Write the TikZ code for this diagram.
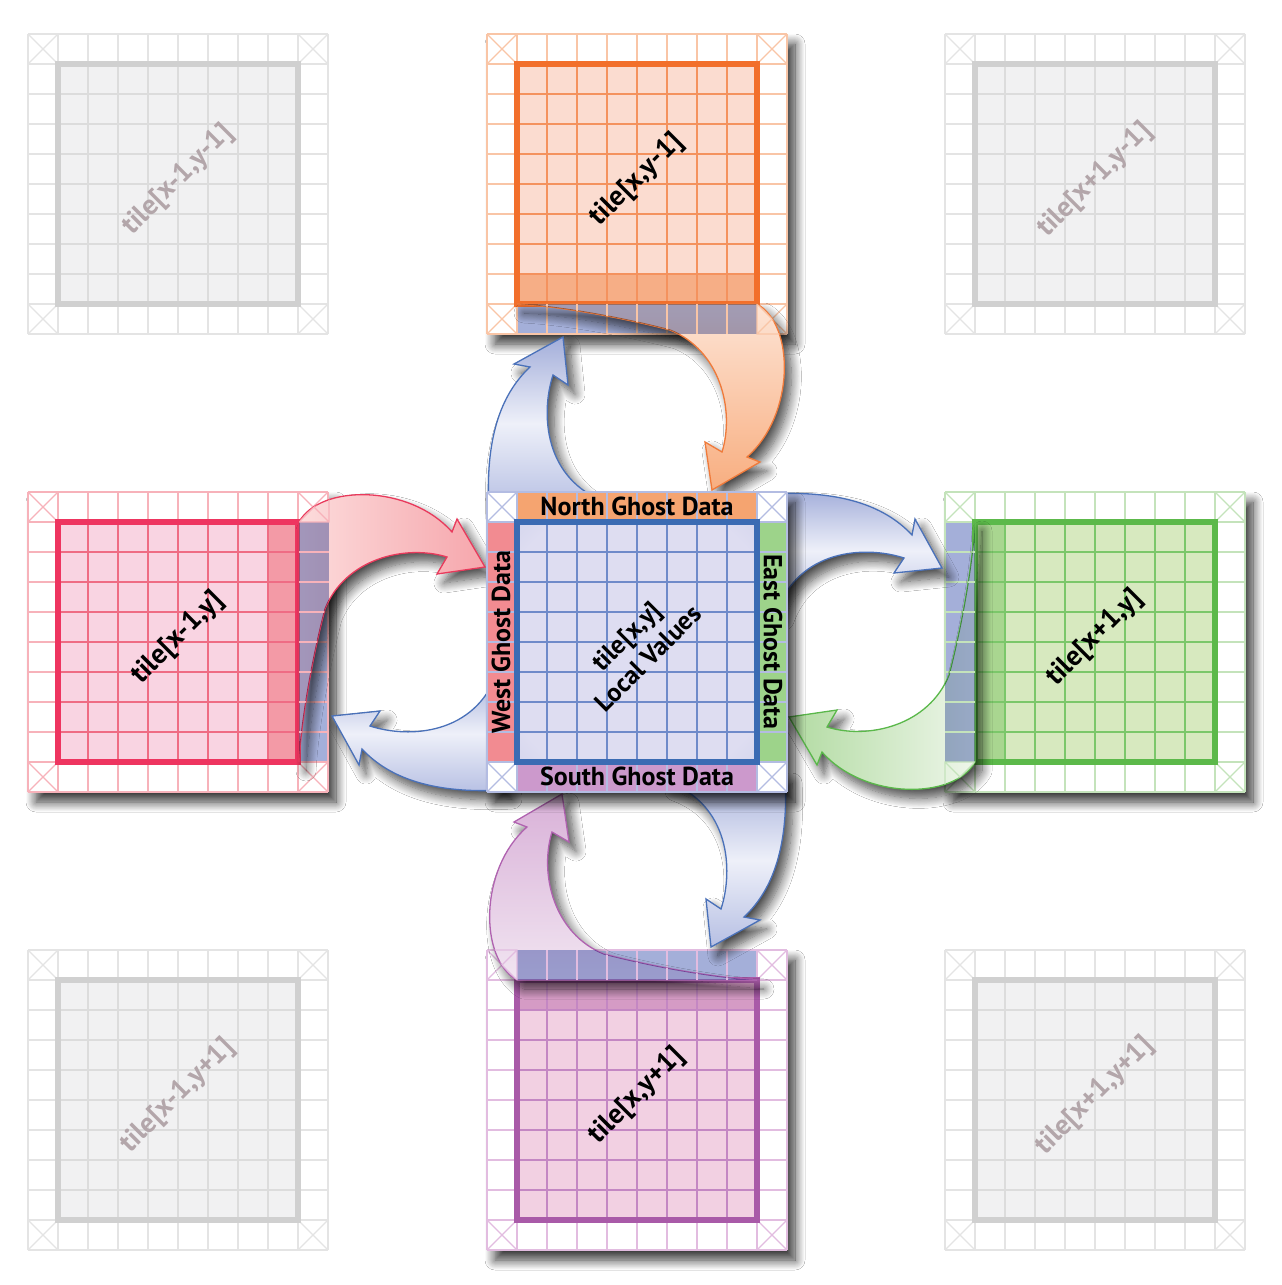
\documentclass[tikz,border=0pt]{standalone}
\usepackage{fontspec}
\setmainfont{PT Sans}
\usetikzlibrary{shadows.blur}

% tile colours
\definecolor{greyring}{HTML}{E4E4E4}
\definecolor{greyfill}{HTML}{F1F1F2}
\definecolor{greyline}{HTML}{DCDCDC}
\definecolor{greyborder}{HTML}{D0D0D0}
\definecolor{greytext}{HTML}{B3A6AA}
\definecolor{orgring}{HTML}{F9C5A6}
\definecolor{orgfill}{HTML}{FBDCD0}
\definecolor{orgline}{HTML}{F4925E}
\definecolor{orgborder}{HTML}{F26F2B}
\definecolor{orgedge}{HTML}{F6AE86}
\definecolor{pinkring}{HTML}{F7B2BA}
\definecolor{pinkfill}{HTML}{F9D4E2}
\definecolor{pinkline}{HTML}{EF6C84}
\definecolor{pinkborder}{HTML}{EE3560}
\definecolor{pinkedge}{HTML}{F39AA6}
\definecolor{grnring}{HTML}{C4E3BB}
\definecolor{grnfill}{HTML}{D7E9BF}
\definecolor{grnline}{HTML}{7BC76A}
\definecolor{grnborder}{HTML}{5CB94A}
\definecolor{grnedge}{HTML}{A9D690}
\definecolor{purring}{HTML}{E2BCE0}
\definecolor{purfill}{HTML}{F2D0E2}
\definecolor{purline}{HTML}{C487C3}
\definecolor{purborder}{HTML}{A95AA8}
\definecolor{puredge}{HTML}{D59BC5}
\definecolor{bluring}{HTML}{B3BCE2}
\definecolor{blulight}{HTML}{DEDDF1}
\definecolor{blumid}{HTML}{C0C5E5}
\definecolor{bludark}{HTML}{94A0D2}
\definecolor{bluline}{HTML}{6F8AC9}
\definecolor{bluborder}{HTML}{3B6BB3}
\definecolor{ghostblue}{HTML}{A4AFD9}
\definecolor{northghost}{HTML}{F5A470}
\definecolor{westghost}{HTML}{F28B91}
\definecolor{eastghost}{HTML}{9DD38A}
\definecolor{southghost}{HTML}{CC99CC}
% arrow colours
\definecolor{sendtop}{HTML}{A3AEDA}
\definecolor{sendmid}{HTML}{EEF0F9}
\definecolor{sendbot}{HTML}{B6BFE3}
\definecolor{sendedge}{HTML}{4A71B9}
\definecolor{orgtail}{HTML}{FDE4D5}
\definecolor{orghead}{HTML}{F8AE80}
\definecolor{orgedgeline}{HTML}{F07A3A}
\definecolor{pinktail}{HTML}{FCDCDC}
\definecolor{pinkhead}{HTML}{F6A6AC}
\definecolor{pinkedgeline}{HTML}{E93A5C}
\definecolor{grntail}{HTML}{EEF6EA}
\definecolor{grnhead}{HTML}{B2DBA2}
\definecolor{grnedgeline}{HTML}{5AB84A}
\definecolor{purtail}{HTML}{F1E5F1}
\definecolor{purhead}{HTML}{D9B1D8}
\definecolor{puredgeline}{HTML}{B062B0}

\pgfdeclareradialshading{localcells}{\pgfpoint{0bp}{0bp}}{color(0bp)=(blulight); color(30bp)=(blulight); color(50bp)=(blumid); color(71bp)=(bludark)}

\tikzset{
  ringline/.style={line width=1.3pt},
  tileshadow/.style={blur shadow={shadow xshift=8pt, shadow yshift=-10pt, shadow blur radius=10pt, shadow opacity=80, shadow blur steps=12}},
  arrowshadow/.style={blur shadow={shadow xshift=7pt, shadow yshift=-9pt, shadow blur radius=10pt, shadow opacity=70, shadow blur steps=12}},
  sendarrow/.style={draw=sendedge, line width=1.3pt, top color=sendtop, bottom color=sendbot, middle color=sendmid, arrowshadow},
  recvarrow/.style={line width=1.3pt, arrowshadow},
  ghostveil/.style={fill=ghostblue, blend mode=multiply},
  tilelabel/.style={font=\fontsize{28}{30}\selectfont\bfseries, rotate=45, inner sep=0pt},
  ghostlabel/.style={font=\fontsize{26}{28}\selectfont\bfseries, inner sep=0pt},
}

% white ground of a tile
\newcommand{\tilebg}[3]{\fill[white,#3] (#1,#2) rectangle ++(300,300);}
% outer ring of cells with crossed corners
\newcommand{\tilering}[3]{%
  \foreach \gi in {0,...,10}{
    \draw[ringline,#3] (#1+\gi*30,#2) -- ++(0,300);
    \draw[ringline,#3] (#1,#2+\gi*30) -- ++(300,0);
  }
  \foreach \cx/\cy in {0/0,270/0,0/270,270/270}{
    \draw[ringline,#3] (#1+\cx,#2+\cy) -- ++(30,30) (#1+\cx+30,#2+\cy) -- ++(-30,30);
  }
}
% local cells and their thick frame
\newcommand{\tilegrid}[5]{%
  \foreach \gi in {1,...,7}{
    \draw[ringline,#3] (#1+30+\gi*30,#2+30) -- ++(0,240);
    \draw[ringline,#3] (#1+30,#2+30+\gi*30) -- ++(240,0);
  }
  \draw[line width=#5,#4] (#1+30,#2+30) rectangle ++(240,240);
}

% arrow from the centre tile to the tile above
\def\sendpath{(489,510) .. controls (485,440) and (500,395) .. (530,367) -- (514,364) -- (563,337) -- (568,385) -- (553,375) .. controls (540,415) and (545,480) .. (606,502) -- cycle}
% arrow from the tile above into the north ghost row
\def\recvpath{(757,304) .. controls (795,325) and (795,415) .. (747,457) -- (760,462) -- (712,490) -- (705,442) -- (722,452) .. controls (735,410) and (720,350) .. (670,330) .. controls (600,312) and (540,305) .. (517,304) -- cycle}
% ghost row of the tile above, seen through the arrow
\newcommand{\ghostunder}[1]{%
  \begin{scope}
    \clip \recvpath;
    \fill[ghostveil] (517,304) rectangle ++(240,30);
    \foreach \gi in {1,...,7}{\draw[ringline,#1] (517+\gi*30,304) -- ++(0,30);}
    \draw[ringline,#1] (757,304) rectangle ++(30,30) (757,304) -- ++(30,30) (787,304) -- ++(-30,30);
  \end{scope}
}

\begin{document}
\begin{tikzpicture}[x=1pt,y=1pt,yscale=-1]
\useasboundingbox (0,0) rectangle (1282,1285);
\fill[white] (0,0) rectangle (1282,1285);

% corner tiles
\foreach \tx/\ty in {28/34,945/34,28/950,945/950}{
  \tilebg{\tx}{\ty}{}
  \tilering{\tx}{\ty}{greyring}
  \fill[greyfill] (\tx+30,\ty+30) rectangle ++(240,240);
  \tilegrid{\tx}{\ty}{greyline}{greyborder}{6.5pt}
}

% Tile above
\tilebg{487}{34}{tileshadow}
\fill[ghostblue] (517,304) rectangle ++(240,30);
\tilering{487}{34}{orgring}
\fill[orgfill] (517,64) rectangle ++(240,240);
\fill[orgedge] (517,274) rectangle ++(240,30);
\tilegrid{487}{34}{orgline}{orgborder}{5.5pt}

% Tile left
\tilebg{28}{492}{tileshadow}
\fill[ghostblue] (298,522) rectangle ++(30,240);
\tilering{28}{492}{pinkring}
\fill[pinkfill] (58,522) rectangle ++(240,240);
\fill[pinkedge] (268,522) rectangle ++(30,240);
\tilegrid{28}{492}{pinkline}{pinkborder}{5.5pt}

% Tile right
\tilebg{945}{492}{tileshadow}
\fill[ghostblue] (945,522) rectangle ++(30,240);
\tilering{945}{492}{grnring}
\fill[grnfill] (975,522) rectangle ++(240,240);
\fill[grnedge] (975,522) rectangle ++(30,240);
\tilegrid{945}{492}{grnline}{grnborder}{5.5pt}

% Tile below
\tilebg{487}{950}{tileshadow}
\fill[ghostblue] (517,950) rectangle ++(240,30);
\tilering{487}{950}{purring}
\fill[purfill] (517,980) rectangle ++(240,240);
\fill[puredge] (517,980) rectangle ++(240,30);
\tilegrid{487}{950}{purline}{purborder}{5.5pt}

% Arrows north
\shadedraw[sendarrow] \sendpath;
\shadedraw[recvarrow, draw=orgedgeline, top color=orgtail, bottom color=orghead] \recvpath;
\ghostunder{orgring}
% Arrows east
\begin{scope}[rotate around={90:(637,642)}]
\shadedraw[sendarrow] \sendpath;
\shadedraw[recvarrow, draw=grnedgeline, left color=grnhead, right color=grntail] \recvpath;
\ghostunder{grnring}
\end{scope}
% Arrows south
\begin{scope}[rotate around={180:(637,642)}]
\shadedraw[sendarrow] \sendpath;
\shadedraw[recvarrow, draw=puredgeline, top color=purhead, bottom color=purtail] \recvpath;
\ghostunder{purring}
\end{scope}
% Arrows west
\begin{scope}[rotate around={270:(637,642)}]
\shadedraw[sendarrow] \sendpath;
\shadedraw[recvarrow, draw=pinkedgeline, left color=pinktail, right color=pinkhead] \recvpath;
\ghostunder{pinkring}
\end{scope}

% Centre tile
\tilebg{487}{492}{tileshadow}
\fill[northghost] (517,492) rectangle ++(240,30);
\fill[westghost] (487,522) rectangle ++(30,240);
\fill[eastghost] (757,522) rectangle ++(30,240);
\fill[southghost] (517,762) rectangle ++(240,30);
\tilering{487}{492}{bluring}
\shade[shading=localcells] (517,522) rectangle ++(240,240);
\tilegrid{487}{492}{bluline}{bluborder}{5.5pt}

% Text Node
\node[ghostlabel] (north) at (637,506) {North Ghost Data};
\node[ghostlabel, rotate=90] (west) at (501,642) {West Ghost Data};
\node[ghostlabel, rotate=-90] (east) at (773,642) {East Ghost Data};
\node[ghostlabel] (south) at (637,776) {South Ghost Data};
% Text Node
\node[tilelabel, text=greytext] (nw) at (178,180) {tile[x-1,y-1]};
\node[tilelabel] (n) at (637,180) {tile[x,y-1]};
\node[tilelabel, text=greytext] (ne) at (1095,180) {tile[x+1,y-1]};
\node[tilelabel] (w) at (178,638) {tile[x-1,y]};
\node[tilelabel, font=\fontsize{26}{31}\selectfont\bfseries, align=center] (c) at (637,647) {tile[x,y]\\Local Values};
\node[tilelabel] (e) at (1095,638) {tile[x+1,y]};
\node[tilelabel, text=greytext] (sw) at (178,1096) {tile[x-1,y+1]};
\node[tilelabel] (s) at (637,1096) {tile[x,y+1]};
\node[tilelabel, text=greytext] (se) at (1095,1096) {tile[x+1,y+1]};
\end{tikzpicture}
\end{document}
